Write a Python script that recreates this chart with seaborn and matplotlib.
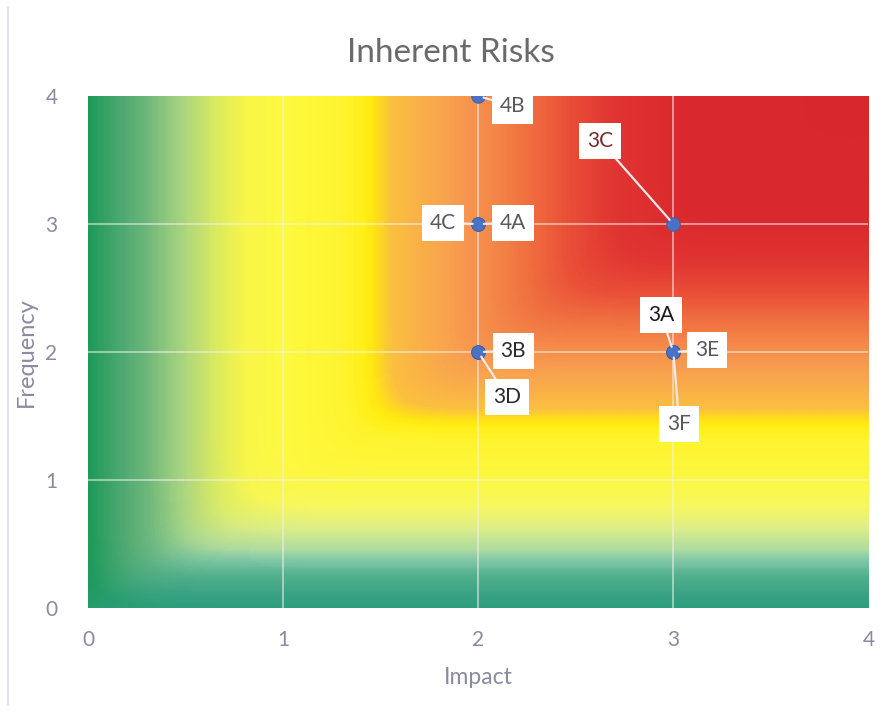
import numpy as np
import pandas as pd
import matplotlib
matplotlib.use("Agg")
import matplotlib.pyplot as plt
from matplotlib.colors import LinearSegmentedColormap
from matplotlib.lines import Line2D
import seaborn as sns

# risk register
risk_ids = ["4B", "4A", "4C", "3C", "3B", "3D", "3A", "3E", "3F"]
impact = [2, 2, 2, 3, 2, 2, 3, 3, 3]
frequency = [4, 3, 3, 3, 2, 2, 2, 2, 2]

axis_ticks = [0, 1, 2, 3, 4]

# where each data label sits relative to its point (pixels)
label_offsets = {
    "4B": (34, -10), "4A": (35, 1), "4C": (-35, 1), "3C": (-73, 83),
    "3B": (35, 1), "3D": (29, -45), "3A": (-12, 37), "3E": (34, 2),
    "3F": (6, -72),
}
label_colors = {"3A": "#1a1a1a", "3B": "#2a2a2a", "3D": "#2a2a2a", "3C": "#7a2a2a"}

# background colour ramps (fraction of the 0-4 range)
warm_stops = [
    (0.325, "#fff430"), (0.35, "#fff01a"), (0.3625, "#ffe810"), (0.3875, "#fcc040"),
    (0.4625, "#f8a050"), (0.5125, "#f58a4a"), (0.5625, "#f07040"), (0.6125, "#ea5038"),
    (0.675, "#e03532"), (0.75, "#db2a2e"), (1.00, "#d8282e"),
]
left_greens = [(0.0, "#1e9a5a"), (0.0375, "#4aa86e"), (0.075, "#70b87c"),
               (0.1175, "#a8d480"), (0.16, "#d8ea60"), (0.20, "#f8f648"),
               (0.25, "#fefa40")]
bottom_greens = [(0.0, "#2e9e7c"), (0.025, "#3aa384"), (0.06, "#52b08e"),
                 (0.094, "#85caa8"), (0.1125, "#b0dca0"), (0.1525, "#dcee88"),
                 (0.1975, "#f8f860"), (0.25, "#fcf840")]


def main():
    sns.set_theme(style="white")
    plt.rcParams["font.family"] = ["Lato", "DejaVu Sans"]

    df = pd.DataFrame({"Risk": risk_ids, "Impact": impact, "Frequency": frequency})

    fig = plt.figure(figsize=(8.85, 7.19), dpi=100)
    ax = fig.add_axes([0.0994, 0.1544, 0.8819, 0.7121])

    # heat background: rectangular gradient running to the top-right corner
    g = np.linspace(0, 4, 500)
    gx, gy = np.meshgrid(g, g)
    k = 9.0
    t = -np.log(np.exp(-k * gx) + np.exp(-k * gy)) / k
    t = np.clip(t, 0, 4) / 4
    cmap_l = LinearSegmentedColormap.from_list("heat_l", left_greens + warm_stops)
    cmap_b = LinearSegmentedColormap.from_list("heat_b", bottom_greens + warm_stops)
    w = 1 / (1 + np.exp(-(gx - gy) * 8))
    rgb = cmap_l(t)[..., :3] * (1 - w[..., None]) + cmap_b(t)[..., :3] * w[..., None]
    ax.imshow(rgb, extent=[0, 4, 0, 4], origin="lower",
              aspect="auto", interpolation="bilinear", zorder=0)

    for v in axis_ticks[1:-1]:
        ax.axvline(v, color="#f4f0e8", lw=1.1, alpha=0.7, zorder=1)
        ax.axhline(v, color="#f4f0e8", lw=1.1, alpha=0.7, zorder=1)

    sns.scatterplot(data=df, x="Impact", y="Frequency", ax=ax, s=95,
                    color="#4a72c4", edgecolor="#3a5ea8", linewidth=0.6, zorder=4)

    for rid, x, y in zip(risk_ids, impact, frequency):
        dx, dy = label_offsets[rid]
        ax.annotate(rid, xy=(x, y), xytext=(dx, dy), textcoords="offset pixels",
                    ha="center", va="center", fontsize=15,
                    color=label_colors.get(rid, "#595959"),
                    bbox=dict(boxstyle="square,pad=0.38", fc="white", ec="none"),
                    arrowprops=dict(arrowstyle="-", color="#f2eaea", lw=1.6,
                                    shrinkA=0, shrinkB=4),
                    zorder=5)

    ax.set_xlim(0, 4)
    ax.set_ylim(0, 4)
    ax.set_xticks(axis_ticks)
    ax.set_yticks(axis_ticks)
    for s in ax.spines.values():
        s.set_visible(False)
    ax.tick_params(axis="both", length=0, labelsize=15, labelcolor="#8a8aa0")
    ax.tick_params(axis="x", pad=16)
    ax.tick_params(axis="y", pad=22)

    ax.set_xlabel("Impact", fontsize=16.5, color="#8a8aa0", labelpad=12)
    ax.set_ylabel("Frequency", fontsize=17, color="#8a8aa0", labelpad=6)
    fig.suptitle("Inherent Risks", x=0.51, y=0.926, va="center",
                 fontsize=24, color="#6a6a6a")

    # faint chart border on the left
    fig.add_artist(Line2D([8 / 885, 8 / 885], [0.02, 0.99], color="#dcdcea", lw=1.2))

    fig.savefig("out.png", dpi=100, facecolor="white")


if __name__ == "__main__":
    main()
